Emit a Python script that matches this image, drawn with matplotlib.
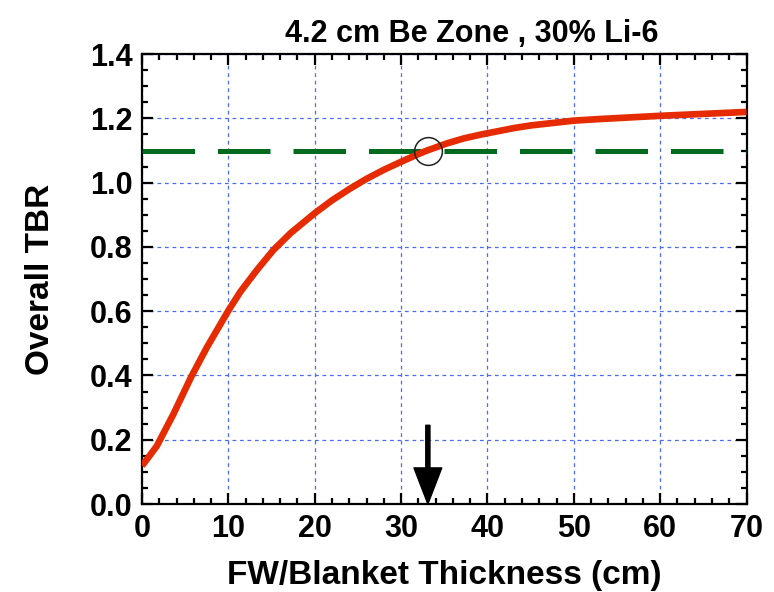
import matplotlib.pyplot as plt
from matplotlib.ticker import MultipleLocator

plt.rcParams['font.family'] = ['Liberation Sans', 'DejaVu Sans']
plt.rcParams['font.weight'] = 'bold'

# TBR
thick = [0, 1.7, 3.6, 5.7, 7.5, 10, 11.4, 13.3, 15.2, 17.2, 20, 22, 24,
         26, 28, 30, 31, 32, 33, 35.4, 37.3, 39.3, 43.1, 45, 50, 53, 60, 70]
tbr = [0.119, 0.18, 0.278, 0.396, 0.487, 0.602, 0.661, 0.728, 0.79, 0.843,
       0.905, 0.945, 0.98, 1.012, 1.040, 1.065, 1.077, 1.089, 1.10, 1.123,
       1.138, 1.15, 1.17, 1.178, 1.193, 1.198, 1.208, 1.22]
target = 1.1
cross_x = 33.1

fig = plt.figure(figsize=(7.74, 5.92), dpi=100)
ax = fig.add_axes([0.1835, 0.1486, 0.781, 0.760])

ax.plot([0, 70], [target, target], color='#006B1F', lw=3.6,
        dashes=(10.5, 4.6), zorder=3)
ax.plot(thick, tbr, color='#E62B00', lw=4.8, solid_joinstyle='round',
        solid_capstyle='butt', zorder=4)
ax.plot([cross_x], [target], 'o', mfc='none', mec='#222222', ms=20, mew=1.1, zorder=5)
ax.annotate('', xy=(cross_x, 0.0), xytext=(cross_x, 0.245),
            arrowprops=dict(facecolor='black', edgecolor='black', width=3,
                            headwidth=20, headlength=26, shrink=0),
            zorder=6, annotation_clip=False)

ax.set_xlim(0, 70)
ax.set_ylim(0, 1.4)
ax.xaxis.set_major_locator(MultipleLocator(10))
ax.xaxis.set_minor_locator(MultipleLocator(2))
ax.yaxis.set_major_locator(MultipleLocator(0.2))
ax.yaxis.set_minor_locator(MultipleLocator(0.05))
ax.yaxis.set_major_formatter(plt.FormatStrFormatter('%.1f'))
ax.tick_params(which='both', direction='in', top=True, right=True, width=1.6,
               labelsize=22, pad=7)
ax.tick_params(which='major', length=8)
ax.tick_params(which='minor', length=4.5)
for s in ax.spines.values():
    s.set_linewidth(1.6)
ax.grid(True, which='major', color='#4a6cf0', lw=0.9, ls=(0, (3, 3)))

ax.set_xlabel('FW/Blanket Thickness (cm)', fontsize=24, fontweight='bold', labelpad=12)
ax.set_ylabel('Overall TBR', fontsize=24, fontweight='bold', labelpad=24)
ax.set_title('4.2 cm Be Zone , 30% Li-6', fontsize=22, fontweight='bold',
             x=0.545, pad=9)

fig.savefig('out.png', dpi=100)
